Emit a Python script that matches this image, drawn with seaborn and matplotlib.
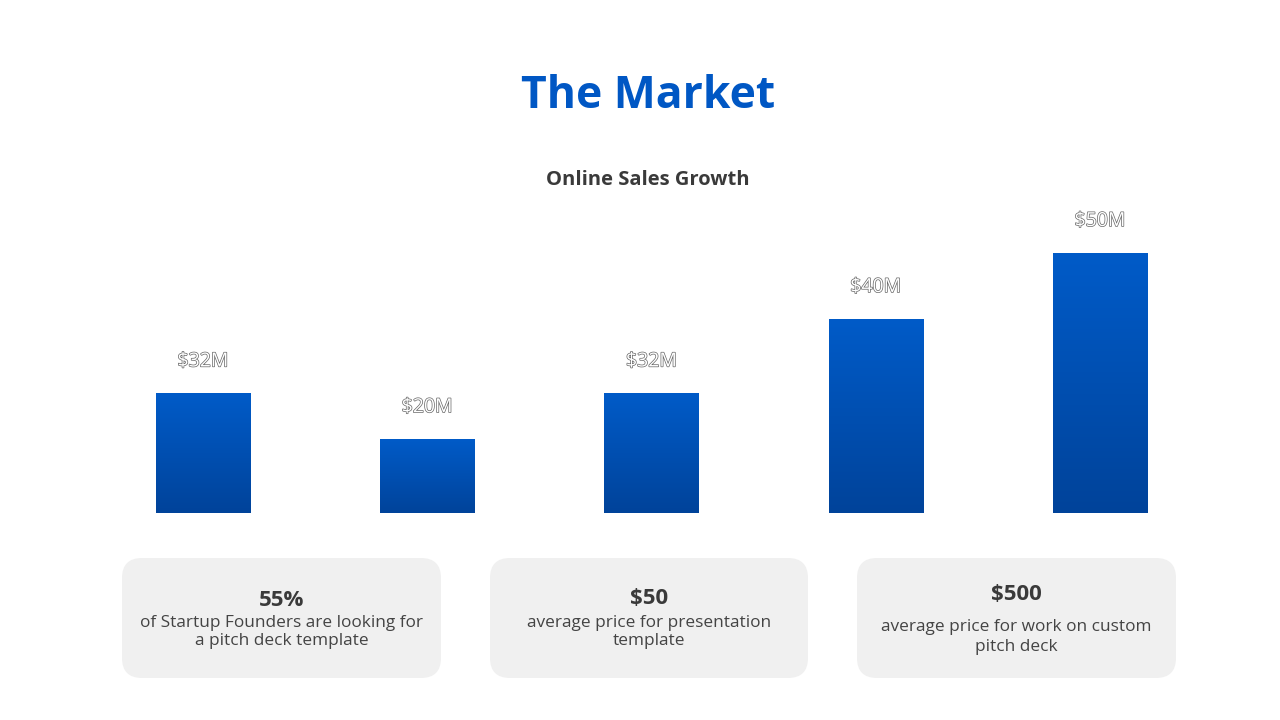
import numpy as np
import pandas as pd
import matplotlib
matplotlib.use("Agg")
import matplotlib.pyplot as plt
import matplotlib.patheffects as pe
from matplotlib.patches import FancyBboxPatch
from matplotlib.colors import LinearSegmentedColormap
import seaborn as sns

# ---- data ----
categories = ["A", "B", "C", "D", "E"]
bar_values = [23.0, 14.2, 23.0, 37.3, 50.0]
bar_labels = ["$32M", "$20M", "$32M", "$40M", "$50M"]
stat_heads = ["55%", "$50", "$500"]
stat_texts = ["of Startup Founders are looking for\na pitch deck template",
              "average price for presentation\ntemplate",
              "average price for work on custom\npitch deck"]
title = "The Market"
subtitle = "Online Sales Growth"

sns.set_theme(style="white")
FONT = ["Open Sans", "DejaVu Sans"]
plt.rcParams["font.family"] = FONT

fig = plt.figure(figsize=(12.8, 7.2), dpi=100)
fig.patch.set_facecolor("white")

ax = fig.add_axes([0.071, 0.2875, 0.876, 0.4333])
df = pd.DataFrame({"cat": categories, "val": bar_values})
sns.barplot(data=df, x="cat", y="val", color="#0050B4", width=0.42, ax=ax)
ax.set_xlim(-0.5, 4.5)
ax.set_ylim(0, 60)
ax.axis("off")

cmap = LinearSegmentedColormap.from_list("g", ["#00439A", "#005BC8"])
grad = np.linspace(0, 1, 256).reshape(-1, 1)
for patch in list(ax.patches):
    x0, y0 = patch.get_x(), patch.get_y()
    w, h = patch.get_width(), patch.get_height()
    im = ax.imshow(grad, cmap=cmap, origin="lower", aspect="auto",
                   extent=[x0, x0 + w, y0, y0 + h], zorder=3)
    im.set_clip_path(patch)
ax.set_xlim(-0.5, 4.5)
ax.set_ylim(0, 60)

for i, (v, lab) in enumerate(zip(bar_values, bar_labels)):
    ax.annotate(lab, (i, v), xytext=(0, 23), textcoords="offset points",
                ha="center", va="center", fontsize=14, color="white",
                family=FONT,
                path_effects=[pe.withStroke(linewidth=1.0, foreground="#666666")],
                zorder=5)

fig.text(0.506, 1 - 97 / 720, title, ha="center", va="center",
         fontsize=32, fontweight="bold", color="#0057C4", family=FONT)
fig.text(0.506, 1 - 180 / 720, subtitle, ha="center", va="center",
         fontsize=14.5, fontweight="bold", color="#3A3A3A", family=FONT)

boxes = [(122, 441), (490, 808), (857, 1176)]
head_y = [600, 599, 595]
line_sp = [1.15, 1.15, 1.35]
body_y = [632, 632, 637]
for (x0, x1), hd, tx, hy, by, ls in zip(boxes, stat_heads, stat_texts, head_y, body_y, line_sp):
    bx = FancyBboxPatch((x0 / 100 + 0.2, (720 - 678) / 100 + 0.2),
                        (x1 - x0) / 100 - 0.4, 1.2 - 0.4,
                        boxstyle="round,pad=0.2",
                        transform=fig.dpi_scale_trans,
                        facecolor="#F0F0F0", edgecolor="none")
    fig.add_artist(bx)
    cx = (x0 + x1) / 2 / 1280
    fig.text(cx, 1 - hy / 720, hd, ha="center", va="center", fontsize=16,
             fontweight="bold", color="#3A3A3A", family=FONT)
    fig.text(cx, 1 - by / 720, tx, ha="center", va="center", fontsize=12.4,
             color="#444444", family=FONT, linespacing=ls, multialignment="center")

fig.savefig("out.png", dpi=100, facecolor="white")
